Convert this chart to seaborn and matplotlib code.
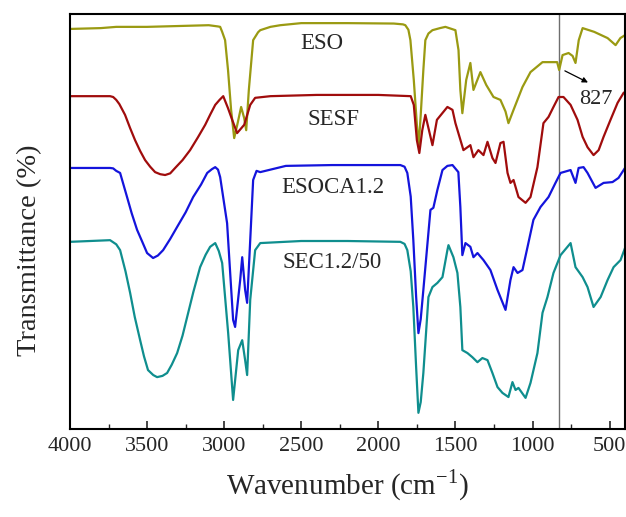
import numpy as np
import pandas as pd
import matplotlib
matplotlib.use("Agg")
import matplotlib.pyplot as plt
import seaborn as sns

# FTIR spectra (wavenumber in cm-1, transmittance in %)
eso_wn = [4000, 3800, 3700, 3500, 3300, 3100, 3040, 3026, 3013, 2994, 2975, 2955, 2935, 2915,
          2890, 2870, 2857, 2840, 2812, 2780, 2766, 2700, 2636, 2500, 2200, 1900, 1840, 1825,
          1805, 1792, 1770, 1750, 1738, 1725, 1708, 1695, 1675, 1649, 1600, 1565, 1500, 1480,
          1468, 1455, 1430, 1403, 1383, 1338, 1300, 1253, 1208, 1175, 1156, 1123, 1065, 1013,
          935, 840, 827, 805, 766, 740, 721, 700, 675, 600, 513, 461, 430, 400]
eso_t = [96.4, 96.6, 96.9, 96.9, 97.1, 97.3, 97.0, 96.9, 95.7, 93.7, 86.5, 76.9, 70.1, 73.3,
         77.6, 74.9, 72.0, 81.7, 93.7, 95.6, 96.1, 96.9, 97.3, 97.8, 97.8, 97.7, 97.5, 97.3,
         96.2, 93.7, 84.1, 73.3, 68.4, 75.7, 86.5, 93.7, 95.3, 96.1, 96.6, 96.9, 96.1, 91.3,
         81.7, 76.1, 84.1, 88.2, 81.7, 86.0, 82.9, 80.0, 79.3, 76.5, 73.7, 76.9, 82.4, 86.0,
         88.4, 88.4, 86.5, 90.1, 90.6, 89.9, 88.2, 93.7, 96.6, 95.7, 94.2, 92.5, 94.2, 94.9]

sesf_wn = [4000, 3740, 3720, 3700, 3680, 3643, 3610, 3578, 3545, 3513, 3480, 3448, 3415, 3383,
           3350, 3318, 3270, 3221, 3170, 3123, 3090, 3058, 3030, 3006, 2975, 2948, 2916, 2870,
           2831, 2799, 2700, 2400, 2000, 1790, 1770, 1750, 1734, 1715, 1695, 1649, 1620, 1552,
           1519, 1500, 1448, 1403, 1383, 1351, 1318, 1292, 1260, 1240, 1208, 1188, 1162, 1143,
           1123, 1091, 1045, 1013, 968, 929, 896, 864, 831, 799, 753, 708, 675, 643, 604, 571,
           539, 494, 448, 409, 400]
sesf_t = [80.2, 80.2, 80.0, 79.3, 78.3, 75.7, 72.5, 69.6, 67.0, 64.8, 63.2, 61.9, 61.4, 61.2,
          61.6, 62.9, 64.8, 67.2, 70.3, 73.3, 75.8, 78.1, 79.3, 80.2, 77.3, 74.5, 71.3, 73.3,
          78.1, 79.8, 80.2, 80.5, 80.5, 80.2, 78.1, 69.6, 66.5, 72.0, 75.7, 68.4, 74.5, 77.6,
          76.9, 73.7, 67.2, 68.4, 65.5, 67.2, 66.0, 69.2, 65.3, 64.1, 68.9, 69.2, 61.7, 59.3,
          60.0, 55.9, 54.5, 55.9, 63.1, 73.7, 75.2, 77.6, 80.0, 80.0, 78.1, 74.5, 70.4, 67.9,
          66.0, 67.2, 70.4, 74.5, 78.6, 81.0, 81.2]

esoca_wn = [4000, 3740, 3720, 3700, 3675, 3630, 3600, 3565, 3530, 3500, 3461, 3430, 3396,
            3350, 3305, 3250, 3201, 3150, 3110, 3080, 3058, 3040, 3026, 2981, 2961, 2942, 2929,
            2896, 2883, 2864, 2851, 2831, 2812, 2790, 2766, 2600, 2300, 2000, 1857, 1830, 1812,
            1790, 1773, 1755, 1740, 1725, 1708, 1662, 1643, 1617, 1584, 1552, 1519, 1481, 1468,
            1455, 1435, 1403, 1383, 1357, 1318, 1273, 1227, 1175, 1143, 1123, 1097, 1065, 1032,
            994, 948, 896, 851, 818, 753, 721, 701, 669, 643, 591, 539, 481, 442, 400]
esoca_t = [62.9, 62.9, 62.8, 62.2, 61.7, 55.9, 52.0, 48.0, 45.0, 42.4, 41.2, 41.8, 43.1,
           45.8, 48.7, 52.2, 55.9, 58.9, 61.7, 62.6, 63.1, 62.5, 60.7, 49.6, 37.6, 26.3, 24.6,
           35.9, 41.4, 33.5, 30.4, 45.5, 60.0, 62.2, 61.9, 63.4, 63.6, 63.6, 63.6, 63.2, 61.7,
           56.0, 45.5, 32.0, 23.1, 26.5, 33.5, 52.8, 53.3, 57.6, 62.4, 63.4, 63.6, 61.9, 53.5,
           41.9, 44.8, 43.9, 41.4, 42.4, 40.7, 38.3, 33.5, 28.7, 35.9, 39.0, 37.6, 38.3, 43.9,
           50.4, 53.5, 55.9, 59.3, 61.7, 62.4, 59.3, 62.9, 63.1, 61.7, 58.1, 59.3, 59.5, 60.5,
           62.9]

sec_wn = [4000, 3740, 3720, 3700, 3675, 3640, 3610, 3580, 3545, 3520, 3494, 3460, 3435, 3400,
          3370, 3340, 3305, 3270, 3240, 3200, 3156, 3120, 3091, 3058, 3035, 3013, 2974, 2942,
          2909, 2883, 2864, 2851, 2831, 2799, 2766, 2500, 2200, 1857, 1830, 1812, 1790, 1773,
          1755, 1740, 1725, 1708, 1675, 1649, 1617, 1584, 1552, 1545, 1513, 1487, 1468, 1455,
          1422, 1390, 1357, 1325, 1292, 1260, 1227, 1195, 1156, 1130, 1110, 1091, 1045, 1013,
          968, 935, 903, 864, 818, 753, 721, 675, 643, 604, 558, 513, 474, 429, 400]
sec_t = [45.1, 45.5, 45.0, 44.5, 43.1, 38.0, 32.8, 27.0, 21.4, 17.5, 14.2, 13.0, 12.5, 12.8,
         13.5, 15.5, 18.3, 22.5, 27.0, 33.0, 39.0, 42.0, 43.9, 44.8, 42.9, 40.0, 23.1, 7.0,
         19.0, 21.4, 16.6, 13.0, 31.1, 43.1, 44.8, 45.3, 45.3, 45.1, 44.6, 43.1, 38.0, 29.4,
         15.0, 3.9, 6.5, 13.5, 31.8, 34.2, 35.2, 36.6, 43.1, 44.3, 41.4, 37.6, 29.4, 19.0,
         18.3, 17.3, 16.1, 17.1, 16.6, 13.5, 10.1, 8.7, 7.7, 11.3, 9.4, 9.9, 7.5, 11.1,
         18.3, 28.0, 31.8, 37.6, 41.9, 44.8, 39.0, 36.6, 34.2, 29.4, 31.8, 35.9, 39.0, 40.7,
         43.6]

sample_names = ["ESO", "SESF", "ESOCA1.2", "SEC1.2/50"]
sample_colors = ["#9a9a12", "#a00c0c", "#1414dc", "#0f8e8e"]
label_pos = [(2364, 93.0), (2292, 74.5), (2292, 58.3), (2299, 40.2)]

frames = []
for name, wn, t in zip(sample_names, [eso_wn, sesf_wn, esoca_wn, sec_wn],
                       [eso_t, sesf_t, esoca_t, sec_t]):
    frames.append(pd.DataFrame({"wavenumber": wn, "transmittance": t, "sample": name}))
df = pd.concat(frames, ignore_index=True)

sns.set_style("ticks")
plt.rcParams["font.family"] = ["Liberation Serif", "DejaVu Serif"]

fig = plt.figure(figsize=(6.26, 5.17), dpi=100)
ax = fig.add_axes([70 / 626, 88 / 517, 555 / 626, 415 / 517])

sns.lineplot(data=df, x="wavenumber", y="transmittance", hue="sample",
             palette=dict(zip(sample_names, sample_colors)), estimator=None,
             linewidth=1.6, legend=False, ax=ax)
for line in ax.get_lines():
    line.set_solid_joinstyle("round")

ax.axvline(827, color="#6e6e6e", linewidth=1.0, zorder=0)

for name, (x, y) in zip(sample_names, label_pos):
    ax.text(x, y, name, fontsize=16.5, ha="center", va="center")

ax.annotate("", xy=(640, 83.5), xytext=(790, 86.3),
            arrowprops=dict(arrowstyle="-|>", color="black", lw=0.9,
                            mutation_scale=8, shrinkA=0, shrinkB=0))
ax.text(591, 79.3, "827", fontsize=16, ha="center", va="center")

ax.set_xlim(4000, 400)
ax.set_ylim(0, 100)
ax.set_xticks([4000, 3500, 3000, 2500, 2000, 1500, 1000, 500])
ax.set_xticks(np.arange(3750, 400, -500), minor=True)
ax.set_yticks([])
ax.tick_params(axis="x", which="major", direction="in", length=6, width=1.2,
               labelsize=16, pad=6)
ax.tick_params(axis="x", which="minor", direction="in", length=3.5, width=1.0)
for sp in ax.spines.values():
    sp.set_linewidth(1.5)
    sp.set_color("black")

ax.set_xlabel("Wavenumber (cm$^{\\mathregular{-1}}$)", fontsize=21, labelpad=8)
ax.set_ylabel("Transmittance (%)", fontsize=20.5)
ax.yaxis.set_label_coords(-0.05, 0.43)

fig.savefig("out.png", dpi=100)
